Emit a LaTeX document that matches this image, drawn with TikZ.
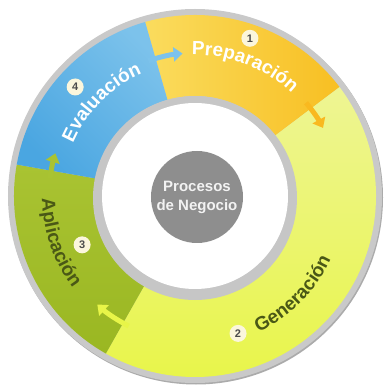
\documentclass[tikz,border=0pt]{standalone}
\usepackage{fontspec}
\setmainfont{Liberation Sans}
\usetikzlibrary{arrows.meta,decorations.text}

\definecolor{ringgray}{HTML}{C9C9C9}
\definecolor{holegray}{HTML}{C6C6C6}
\definecolor{coregray}{HTML}{8E8E8E}
\definecolor{evalblue}{HTML}{4AA6E1}
\definecolor{evalbluelt}{HTML}{7CC2EB}
\definecolor{prepyellow}{HTML}{FADC5E}
\definecolor{preporange}{HTML}{F8BF22}
\definecolor{genlime}{HTML}{E8F548}
\definecolor{genlimelt}{HTML}{EEF593}
\definecolor{aplgreen}{HTML}{A9C332}
\definecolor{aplgreendk}{HTML}{9AB722}
\definecolor{labelolive}{HTML}{4A5816}
\definecolor{badgefill}{HTML}{FBF6DC}

\newcommand{\ringfont}{\bfseries\fontsize{19}{19}\selectfont}

\begin{document}
\begin{tikzpicture}[x=1pt,y=1pt,
    flow/.style={line width=5pt, -{Triangle[width=14pt,length=9pt]}},
    badge/.style={circle, fill=badgefill, inner sep=0pt, minimum size=17pt,
        text=black!70, font=\bfseries\fontsize{11}{11}\selectfont},
    core/.style={circle, fill=coregray, minimum size=92pt, inner sep=0pt,
        align=center, text=white!95!black, font=\bfseries\fontsize{15}{19}\selectfont}]
    \useasboundingbox (-195,-189) rectangle (188,196);

    % Draw the outer gray ring
    \fill[ringgray!85!black] (1,-1.5) circle[radius=187];
    \fill[ringgray] (0,0) circle[radius=187];

    % Draw the four segments
    \shade[left color=prepyellow, right color=preporange]
        (106:181) arc[start angle=106, end angle=37, radius=181]
        -- (37:100) arc[start angle=37, end angle=106, radius=100] -- cycle;
    \shade[top color=genlimelt, bottom color=genlime]
        (37:181) arc[start angle=37, end angle=-119.5, radius=181]
        -- (-119.5:100) arc[start angle=-119.5, end angle=37, radius=100] -- cycle;
    \shade[top color=aplgreen, bottom color=aplgreendk]
        (240.5:181) arc[start angle=240.5, end angle=170, radius=181]
        -- (170:100) arc[start angle=170, end angle=240.5, radius=100] -- cycle;
    \shade[top color=evalbluelt, bottom color=evalblue, shading angle=-45]
        (170:181) arc[start angle=170, end angle=106, radius=181]
        -- (106:100) arc[start angle=106, end angle=170, radius=100] -- cycle;

    % Draw the arrows from one step into the next
    \draw[flow, evalbluelt] (109:143) arc[start angle=109, end angle=95, radius=143];
    \draw[flow, preporange!90!orange] (40:145) arc[start angle=40, end angle=28, radius=145];
    \draw[flow, genlime] (243:146) arc[start angle=243, end angle=228, radius=146];
    \draw[flow, aplgreen] (173:146) arc[start angle=173, end angle=163, radius=146];

    % Draw the inner hole
    \fill[holegray] (0,-2) circle[radius=102];
    \fill[white] (0,0) circle[radius=93];

    % Draw the step names along the ring
    \path[decorate, decoration={text along path, text align=center, text color=white,
        text={|\ringfont|Preparación}}]
        (99:141) arc[start angle=99, end angle=39, radius=141];
    \path[decorate, decoration={text along path, text align=center, text color=labelolive,
        text={|\ringfont|Generación}}]
        (-75:150) arc[start angle=-75, end angle=-15, radius=150];
    \path[decorate, decoration={text along path, text align=center, text color=labelolive,
        text={|\ringfont|Aplicación}}]
        (169:153) arc[start angle=169, end angle=229, radius=153];
    \path[decorate, decoration={text along path, text align=center, text color=white,
        text={|\ringfont|Evaluación}}]
        (165:133) arc[start angle=165, end angle=105, radius=133];

    % Draw the step numbers
    \foreach \n/\ang/\r in {1/70.8/167, 2/-72.6/144, 3/203.4/123, 4/137.7/162} {
        \node[badge] (step\n) at (\ang:\r) {\n};
    }

    % Draw the centre
    \node[core] (core) at (2,-1) {Procesos\\de Negocio};
\end{tikzpicture}
\end{document}
